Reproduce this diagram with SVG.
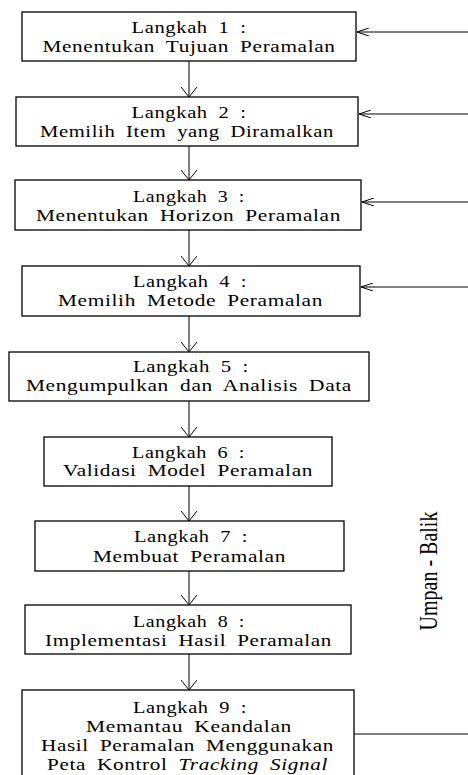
<svg xmlns="http://www.w3.org/2000/svg" width="468" height="775" viewBox="0 0 468 775">
<style>
.box{fill:#fff;stroke:#000;stroke-width:1.3}
.t{font-family:"Liberation Serif","Times New Roman",serif;font-size:16.5px;fill:#000;text-anchor:middle;letter-spacing:0.5px;word-spacing:4px}
.c{stroke:#000;stroke-width:1;fill:none}
.rot{font-family:"Liberation Serif","Times New Roman",serif;font-size:20px;fill:#000;text-anchor:middle}
</style>
<defs>
<marker id="ad" viewBox="0 0 10 16" refX="10" refY="8" markerWidth="10" markerHeight="16" markerUnits="userSpaceOnUse" orient="auto">
<path d="M0,0 L10,8 L0,16" fill="none" stroke="#000" stroke-width="1"/>
</marker>
<marker id="al" viewBox="0 0 12 8" refX="12" refY="4" markerWidth="12" markerHeight="8" markerUnits="userSpaceOnUse" orient="auto">
<path d="M0,0 L12,4 L0,8" fill="none" stroke="#000" stroke-width="1"/>
</marker>
</defs>
<rect width="468" height="775" fill="#fff"/>
<g id="connectors">
<line class="c" x1="189" y1="61" x2="189" y2="97" marker-end="url(#ad)"/>
<line class="c" x1="189" y1="146" x2="189" y2="180" marker-end="url(#ad)"/>
<line class="c" x1="189" y1="230" x2="189" y2="266" marker-end="url(#ad)"/>
<line class="c" x1="189" y1="316" x2="189" y2="352" marker-end="url(#ad)"/>
<line class="c" x1="189" y1="401" x2="189" y2="437" marker-end="url(#ad)"/>
<line class="c" x1="189" y1="486" x2="189" y2="521" marker-end="url(#ad)"/>
<line class="c" x1="189" y1="571" x2="189" y2="605" marker-end="url(#ad)"/>
<line class="c" x1="189" y1="654" x2="189" y2="690" marker-end="url(#ad)"/>
<line class="c" x1="470" y1="32" x2="357" y2="32" marker-end="url(#al)"/>
<line class="c" x1="470" y1="114" x2="359" y2="114" marker-end="url(#al)"/>
<line class="c" x1="470" y1="202" x2="362" y2="202" marker-end="url(#al)"/>
<line class="c" x1="470" y1="287" x2="361" y2="287" marker-end="url(#al)"/>
<line class="c" x1="354" y1="734" x2="470" y2="734"/>
</g>
<g id="step1">
<rect class="box" x="22" y="12" width="334" height="49"/>
<text class="t" x="189" y="33" textLength="115" lengthAdjust="spacingAndGlyphs">Langkah 1 :</text>
<text class="t" x="189" y="52" textLength="293" lengthAdjust="spacingAndGlyphs">Menentukan Tujuan Peramalan</text>
</g>
<g id="step2">
<rect class="box" x="16" y="97" width="342" height="49"/>
<text class="t" x="189" y="118" textLength="115" lengthAdjust="spacingAndGlyphs">Langkah 2 :</text>
<text class="t" x="187" y="137" textLength="294" lengthAdjust="spacingAndGlyphs">Memilih Item yang Diramalkan</text>
</g>
<g id="step3">
<rect class="box" x="15" y="180" width="346" height="50"/>
<text class="t" x="189" y="202" textLength="112" lengthAdjust="spacingAndGlyphs">Langkah 3 :</text>
<text class="t" x="188.5" y="221" textLength="305" lengthAdjust="spacingAndGlyphs">Menentukan Horizon Peramalan</text>
</g>
<g id="step4">
<rect class="box" x="22" y="266" width="338" height="50"/>
<text class="t" x="190" y="287" textLength="114" lengthAdjust="spacingAndGlyphs">Langkah 4 :</text>
<text class="t" x="190.5" y="306" textLength="265" lengthAdjust="spacingAndGlyphs">Memilih Metode Peramalan</text>
</g>
<g id="step5">
<rect class="box" x="9" y="352" width="360" height="49"/>
<text class="t" x="191" y="372" textLength="116" lengthAdjust="spacingAndGlyphs">Langkah 5 :</text>
<text class="t" x="189" y="391" textLength="326" lengthAdjust="spacingAndGlyphs">Mengumpulkan dan Analisis Data</text>
</g>
<g id="step6">
<rect class="box" x="44" y="437" width="288" height="49"/>
<text class="t" x="188.5" y="458" textLength="113" lengthAdjust="spacingAndGlyphs">Langkah 6 :</text>
<text class="t" x="188" y="476" textLength="250" lengthAdjust="spacingAndGlyphs">Validasi Model Peramalan</text>
</g>
<g id="step7">
<rect class="box" x="35" y="521" width="309" height="50"/>
<text class="t" x="191" y="542" textLength="114" lengthAdjust="spacingAndGlyphs">Langkah 7 :</text>
<text class="t" x="189.5" y="562" textLength="193" lengthAdjust="spacingAndGlyphs">Membuat Peramalan</text>
</g>
<g id="step8">
<rect class="box" x="25" y="605" width="326" height="49"/>
<text class="t" x="189" y="627" textLength="112" lengthAdjust="spacingAndGlyphs">Langkah 8 :</text>
<text class="t" x="188.5" y="646" textLength="287" lengthAdjust="spacingAndGlyphs">Implementasi Hasil Peramalan</text>
</g>
<g id="step9">
<rect class="box" x="22" y="690" width="332" height="100"/>
<text class="t" x="190" y="713" textLength="114" lengthAdjust="spacingAndGlyphs">Langkah 9 :</text>
<text class="t" x="189" y="732" textLength="206" lengthAdjust="spacingAndGlyphs">Memantau Keandalan</text>
<text class="t" x="187.5" y="751" textLength="293" lengthAdjust="spacingAndGlyphs">Hasil Peramalan Menggunakan</text>
<text class="t" x="187.5" y="770" textLength="281" lengthAdjust="spacingAndGlyphs">Peta Kontrol <tspan font-style="italic">Tracking Signal</tspan></text>
</g>
<g id="feedback-label">
<text class="rot" transform="translate(437,571) rotate(-90) scale(1,1.3)">Umpan - Balik</text>
</g>
</svg>
